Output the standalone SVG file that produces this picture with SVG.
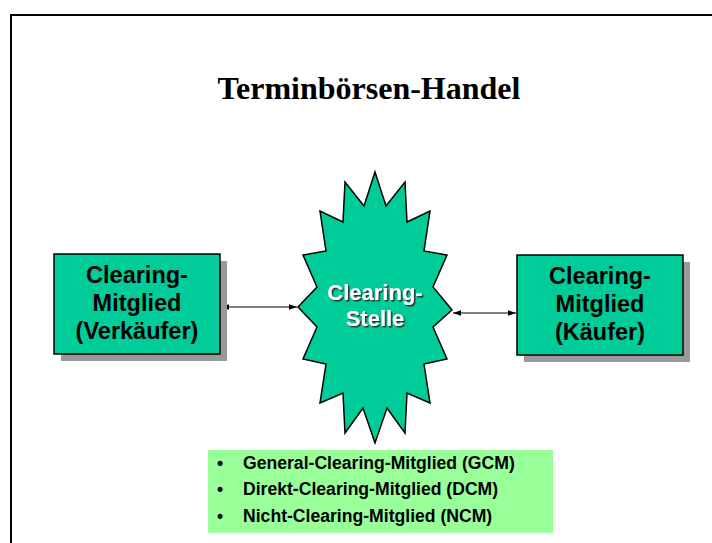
<svg xmlns="http://www.w3.org/2000/svg" width="712" height="543" viewBox="0 0 712 543">
  <defs>
    <style>
      .box { fill: #00CC99; stroke: #000; stroke-width: 1.5; }
      .shadow { fill: #999999; }
      .lbl { font-family: "Liberation Sans", Arial, sans-serif; font-weight: bold; font-size: 23.5px; text-anchor: middle; fill: #000; }
      .star-lbl { font-family: "Liberation Sans", Arial, sans-serif; font-weight: bold; font-size: 22px; text-anchor: middle; fill: #fff; filter: url(#txtshadow); }
      .item { font-family: "Liberation Sans", Arial, sans-serif; font-weight: bold; font-size: 17.6px; fill: #000; }
      .conn { stroke: #000; stroke-width: 1; fill: none; marker-start: url(#ah); marker-end: url(#ah); }
    </style>
    <filter id="txtshadow" x="-10%" y="-30%" width="130%" height="160%">
      <feDropShadow dx="1.5" dy="1.5" stdDeviation="0.3" flood-color="#333333" flood-opacity="1"/>
    </filter>
    <marker id="ah" viewBox="0 0 10 10" refX="10" refY="5" markerWidth="8" markerHeight="8" markerUnits="userSpaceOnUse" orient="auto-start-reverse">
      <path d="M0,1.5 L10,5 L0,8.5 Z" fill="#000"/>
    </marker>
  </defs>

  <rect width="712" height="543" fill="#fff"/>
  <!-- page frame -->
  <path d="M11,543 V15 H712" fill="none" stroke="#000" stroke-width="2"/>

  <text x="369" y="99" font-family="'Liberation Serif', 'Times New Roman', serif" font-weight="bold" font-size="32" text-anchor="middle">Terminbörsen-Handel</text>

  <g id="connectors">
    <line class="conn" x1="221" y1="307" x2="297" y2="307"/>
    <line class="conn" x1="453" y1="313" x2="516" y2="313"/>
  </g>

  <g id="seller">
    <rect class="shadow" x="61" y="261" width="166" height="100"/>
    <rect class="box" x="54" y="254" width="166" height="100"/>
    <text class="lbl" x="137" y="283">Clearing-</text>
    <text class="lbl" x="137" y="311">Mitglied</text>
    <text class="lbl" x="137" y="339">(Verkäufer)</text>
  </g>

  <g id="buyer">
    <rect class="shadow" x="524" y="262" width="166" height="100"/>
    <rect class="box" x="517" y="255" width="166" height="100"/>
    <text class="lbl" x="600" y="284">Clearing-</text>
    <text class="lbl" x="600" y="312">Mitglied</text>
    <text class="lbl" x="600" y="340">(Käufer)</text>
  </g>

  <g id="clearing-house">
    <polygon class="box" stroke-width="1" points="375,172 386,206 405,182 407,222 430,211 424,251 447,255 433,287 452,310 433,327 447,359 424,364 430,403 407,393 405,433 387,408 375,443 363,408 345,433 343,393 320,403 326,364 303,359 317,327 298,307 317,287 303,255 326,251 320,211 343,222 345,182 364,206"/>
    <text class="star-lbl" x="375" y="300">Clearing-</text>
    <text class="star-lbl" x="375" y="326">Stelle</text>
  </g>

  <g id="member-types">
    <rect x="208" y="450" width="345" height="83" fill="#99FF99"/>
    <text class="item" x="217" y="469">•</text>
    <text class="item" x="243" y="469">General-Clearing-Mitglied (GCM)</text>
    <text class="item" x="217" y="495">•</text>
    <text class="item" x="243" y="495">Direkt-Clearing-Mitglied (DCM)</text>
    <text class="item" x="217" y="522">•</text>
    <text class="item" x="243" y="522">Nicht-Clearing-Mitglied (NCM)</text>
  </g>
</svg>
